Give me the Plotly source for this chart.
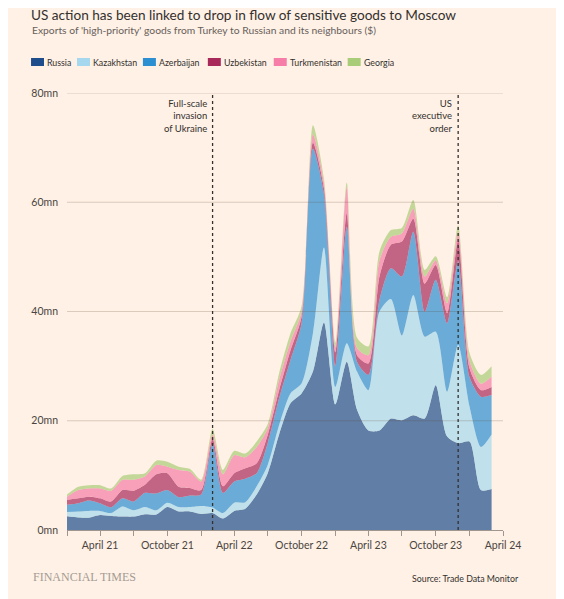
import plotly.graph_objects as go
import pandas as pd

# monthly exports, $mn, Jan 2021 - Mar 2024
months = pd.date_range("2021-01-01", periods=39, freq="MS")

russia = [2.5, 2.3, 2.25, 2.75, 2.55, 2.45, 2.45, 2.9, 2.85, 4.2, 3.4, 3.4, 2.95,
          3.1, 2.1, 3.5, 3.9, 6.5, 10.4, 17.5, 23.2, 25.0, 29.0, 38.0, 23.0, 30.8,
          22.0, 18.2, 18.2, 20.4, 20.1, 21.0, 20.4, 26.5, 17.1, 15.9, 16.2, 7.3, 7.5]
kazakhstan = [0.8, 1.1, 1.25, 0.75, 0.55, 1.85, 1.15, 1.3, 0.75, 0.8, 0.8, 0.8, 1.45,
              1.0, 1.0, 1.5, 1.2, 1.5, 1.5, 1.7, 1.8, 1.8, 7.0, 13.7, 3.2, 3.4,
              7.0, 7.4, 21.8, 21.9, 15.5, 22.0, 15.0, 9.8, 8.2, 18.0, 6.4, 7.9, 10.0]
azerbaijan = [1.3, 1.5, 1.9, 1.4, 1.05, 1.5, 1.6, 2.6, 3.1, 2.3, 1.8, 2.1, 2.1,
              11.7, 3.7, 3.9, 4.3, 2.4, 4.0, 4.9, 6.1, 11.0, 33.8, 9.8, 3.8, 21.3,
              1.8, 2.8, 2.1, 5.6, 10.8, 11.6, 4.5, 9.5, 12.5, 15.3, 5.4, 9.2, 7.2]
uzbekistan = [0.9, 0.9, 0.7, 0.9, 1.05, 1.5, 2.0, 1.5, 3.5, 3.1, 1.9, 1.4, 0.8,
              0.9, 1.2, 1.5, 1.9, 1.8, 1.5, 1.5, 1.8, 1.2, 1.1, 1.0, 2.5, 2.5,
              1.2, 2.1, 4.3, 4.3, 6.4, 2.4, 5.2, 2.7, 1.9, 3.8, 1.6, 1.2, 1.5]
turkmenistan = [0.6, 1.5, 1.5, 1.8, 2.0, 1.9, 2.0, 1.5, 1.7, 1.2, 3.1, 3.0, 1.6,
                0.8, 2.2, 3.3, 2.0, 3.0, 1.2, 1.9, 1.6, 1.0, 1.5, 1.0, 1.0, 4.8,
                1.3, 1.5, 3.0, 1.5, 1.5, 1.8, 1.3, 0.9, 1.8, 1.6, 1.4, 1.2, 1.9]
georgia = [0.4, 0.6, 0.6, 0.6, 0.4, 0.7, 1.0, 0.6, 0.8, 0.9, 0.6, 0.5, 0.3,
           1.0, 0.8, 0.8, 0.7, 1.0, 0.8, 1.2, 1.5, 0.9, 1.7, 0.8, 0.8, 0.8,
           1.9, 1.6, 1.6, 1.2, 1.0, 1.6, 1.2, 0.7, 1.1, 1.2, 1.4, 1.6, 1.9]

names = ["Russia", "Kazakhstan", "Azerbaijan", "Uzbekistan", "Turkmenistan", "Georgia"]
series = [russia, kazakhstan, azerbaijan, uzbekistan, turkmenistan, georgia]
colors = ["#1e4d8c", "#a5d8ee", "#2b8fd1", "#a8285a", "#f57da8", "#a9cc78"]

events = ["2022-02-01", "2023-12-01"]
event_labels = ["Full-scale<br>invasion<br>of Ukraine", "US<br>executive<br>order"]

y_ticks = [0, 20, 40, 60, 80]
y_ticktext = ["%dmn" % v for v in y_ticks]
x_ticks = pd.date_range("2021-01-01", "2024-04-01", freq="QS")
x_ticktext = [d.strftime("%B %y") if d.month in (4, 10) else "" for d in x_ticks]


def rgba(hexcol, a):
    h = hexcol.lstrip("#")
    return "rgba(%d,%d,%d,%s)" % (int(h[0:2], 16), int(h[2:4], 16), int(h[4:6], 16), a)


fig = go.Figure()
for name, vals, col in zip(names, series, colors):
    fig.add_trace(go.Scatter(
        x=months, y=vals, name=name, stackgroup="one",
        mode="lines", line=dict(width=0, color=col, shape="spline", smoothing=0.7),
        fillcolor=rgba(col, 0.7), showlegend=False,
    ))

# gridlines drawn over the areas
for v in y_ticks[1:]:
    fig.add_shape(type="line", xref="paper", x0=0, x1=1, yref="y", y0=v, y1=v,
                  line=dict(color="rgba(90,70,50,0.22)", width=1), layer="above")

for d, label in zip(events, event_labels):
    fig.add_shape(type="line", xref="x", x0=d, x1=d, yref="y", y0=0, y1=80,
                  line=dict(color="#33302e", width=1.3, dash="dot"), layer="above")
    fig.add_annotation(x=d, y=80, xref="x", yref="y", text=label, showarrow=False,
                       xanchor="right", yanchor="top", align="right", xshift=-4, yshift=-3,
                       font=dict(size=9.5, color="#33302e"))

# page body adds an 8px margin, so the figure is 8px smaller than the window
W, H = 556, 591
L, T, R, B = 59, 85, 60.5, 69
pw, ph = W - L - R, H - T - B


def px(X):  # reference-window x -> paper
    return (X - 8 - L) / pw


def py(Y):  # reference-window y -> paper
    return (H - B - (Y - 8)) / ph


# legend built by hand (square swatches)
legend_x = [31, 77, 143, 208, 274, 348]
for name, col, lx in zip(names, colors, legend_x):
    fig.add_shape(type="rect", xref="paper", yref="paper",
                  x0=px(lx), x1=px(lx + 13), y0=py(66), y1=py(58),
                  fillcolor=col, line=dict(width=0))
    fig.add_annotation(x=px(lx + 14), y=py(62.5), xref="paper", yref="paper",
                       text=name, showarrow=False, xanchor="left", yanchor="middle",
                       font=dict(size=8.8, color="#33302e"))

fig.add_annotation(x=px(30), y=py(15), xref="paper", yref="paper",
                   text="US action has been linked to drop in flow of sensitive goods to Moscow",
                   showarrow=False, xanchor="left", yanchor="middle", borderpad=0,
                   font=dict(size=13.6, color="#33302e"))
fig.add_annotation(x=px(30), y=py(30), xref="paper", yref="paper",
                   text="Exports of 'high-priority' goods from Turkey to Russian and its neighbours ($)",
                   showarrow=False, xanchor="left", yanchor="middle",
                   font=dict(size=10.3, color="#66605c"))
fig.add_annotation(x=px(31), y=py(577), xref="paper", yref="paper",
                   text="FINANCIAL TIMES", showarrow=False, xanchor="left", yanchor="middle",
                   font=dict(size=12, color="#a39b94", family="Liberation Serif, serif"))
fig.add_annotation(x=px(522), y=py(578), xref="paper", yref="paper",
                   text="Source: Trade Data Monitor", showarrow=False, xanchor="right",
                   yanchor="middle", font=dict(size=8.8, color="#33302e"))

fig.update_layout(
    width=W, height=H,
    margin=dict(l=L, r=R, t=T, b=B),
    paper_bgcolor="#fff1e5", plot_bgcolor="#fff1e5",
    font=dict(family="Lato, Noto Sans, sans-serif", color="#33302e"),
    xaxis=dict(range=["2021-01-01", "2024-04-01"], tickvals=x_ticks, ticktext=x_ticktext,
               ticks="outside", ticklen=5, tickcolor="#9e968f", showline=True,
               linecolor="#9e968f", linewidth=1, showgrid=False, zeroline=False,
               tickfont=dict(size=10.5, color="#4a4542")),
    yaxis=dict(range=[0, 80], tickvals=y_ticks, ticktext=y_ticktext, showgrid=False,
               zeroline=False, showline=False, ticks="", ticklabelstandoff=8,
               tickfont=dict(size=10.5, color="#4a4542")),
)

fig.write_html("out.html")
